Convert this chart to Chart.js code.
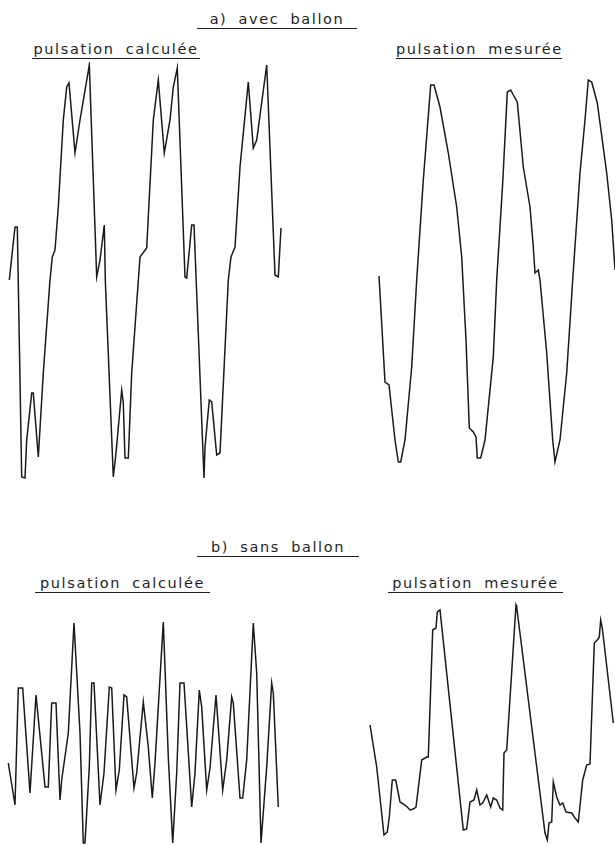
<!DOCTYPE html>
<html>
<head>
<meta charset="utf-8">
<script src="https://cdn.jsdelivr.net/npm/chart.js@4/dist/chart.umd.min.js"></script>
<style>
  body { margin: 0; background: #fff; width: 615px; height: 845px; position: relative; overflow: hidden; }
  canvas { position: absolute; }
  .ttl { position: absolute; font-family: "DejaVu Sans", sans-serif; font-size: 14.5px; color: #1e1e1e;
         letter-spacing: 1.6px; word-spacing: 5px; white-space: nowrap; text-align: center;
         border-bottom: 1.3px solid #1e1e1e; line-height: 15px; padding-bottom: 1px; }
</style>
</head>
<body>
<div class="ttl" style="left:197px; top:12px; width:160px;">a) avec ballon</div>
<div class="ttl" style="left:32px; top:42px; width:168px;">pulsation calculée</div>
<div class="ttl" style="left:396px; top:42px; width:166px;">pulsation mesurée</div>
<div class="ttl" style="left:197px; top:540px; width:162px;">b) sans ballon</div>
<div class="ttl" style="left:35px; top:576px; width:175px;">pulsation calculée</div>
<div class="ttl" style="left:388px; top:576px; width:175px;">pulsation mesurée</div>

<canvas id="c1" width="300" height="428" style="left:0px; top:62px;"></canvas>
<canvas id="c2" width="255" height="428" style="left:360px; top:62px;"></canvas>
<canvas id="c3" width="300" height="247" style="left:0px; top:598px;"></canvas>
<canvas id="c4" width="255" height="247" style="left:360px; top:598px;"></canvas>

<script>
// a) avec ballon - pulsation calculée (time, amplitude)
const avecCalcT = [9.3, 15, 17.3, 21.7, 25, 26.7, 31.7, 33.3, 38.3, 43.3, 50, 52.3, 55, 58.3, 63.3, 66.7, 69, 75, 80, 89.3,
  96.7, 100, 104.3, 105.3, 113.3, 116, 121.7, 123.3, 125, 128.3, 131.7, 140, 146.7, 153.3, 158.3, 164.3, 170, 173.3, 177.3,
  185, 186.7, 191.7, 194, 204, 205, 209.3, 211.7, 216.7, 220, 228.3, 231, 235, 240, 248.3, 253.3, 256.7, 266.7, 275, 278.3, 281];
const avecCalcP = [210, 263, 263, 13, 12, 50, 97, 97, 33, 117, 210, 233, 240, 283, 370, 403, 407, 337, 370, 425,
  213, 230, 265, 210, 13, 37, 100, 87, 32, 32, 117, 233, 242, 370, 410, 337, 370, 403, 422,
  213, 212, 265, 265, 12, 43, 90, 88, 35, 37, 210, 233, 243, 323, 408, 342, 350, 425, 215, 213, 262];

// a) avec ballon - pulsation mesurée
const avecMesT = [19, 25, 29, 35, 38.3, 40.7, 45, 51.7, 56.7, 63.3, 70.7, 74, 80, 88.3, 96.7, 101.7, 106, 109.3, 113.3, 116,
  117.3, 120.7, 125, 133.3, 136.7, 142.7, 147.3, 150.7, 153.3, 157.3, 163.3, 170, 173.3, 175, 178.3, 180, 186.7, 192.7, 195,
  200, 206.7, 212.7, 220, 225, 228.3, 231.7, 237.3, 246.7, 251.7, 255];
const avecMesP = [214, 108, 105, 50, 28, 28, 50, 123, 210, 310, 405, 405, 383, 337, 283, 233, 150, 62, 58, 53,
  32, 32, 50, 133, 210, 307, 398, 400, 395, 388, 323, 283, 243, 217, 220, 210, 137, 50, 28,
  50, 117, 210, 317, 370, 410, 408, 387, 317, 270, 220];

// b) sans ballon - pulsation calculée
const sansCalcT = [8.3, 15, 18.3, 22.7, 30, 36, 45, 48.3, 51.7, 56, 60, 61.7, 68.3, 74, 80, 83.3, 85, 89.3, 91.7, 94,
  100, 104, 109.3, 111.7, 116, 119.3, 124, 126.7, 134, 136.7, 143.3, 148.3, 152.3, 155, 163.3, 168.3, 172.7, 176.7, 180, 184,
  191.7, 195, 199.3, 201.7, 206.7, 210, 216, 218.3, 222.7, 226.7, 231.7, 233.3, 240, 242.7, 246.7, 253.3, 256.7, 261, 266.7,
  271.7, 273.3, 278.3];
const sansCalcP = [82, 40, 157, 157, 52, 150, 58, 58, 142, 142, 45, 65, 112, 222, 112, 2, 2, 78, 162, 162,
  40, 72, 158, 157, 55, 75, 150, 148, 57, 72, 143, 98, 47, 82, 223, 88, 2, 72, 162, 162,
  38, 72, 155, 138, 55, 77, 150, 118, 55, 85, 148, 142, 47, 47, 85, 222, 172, 2, 78,
  162, 152, 38];

// b) sans ballon - pulsation mesurée
const sansMesT = [10, 16.7, 24, 27.3, 29.3, 32.3, 35.7, 40, 45, 47.3, 50, 53.3, 56, 61.7, 66.7, 68.3, 72.7, 76, 77.3, 80,
  103.3, 106.7, 110, 114, 116.7, 120, 122.7, 126.7, 130.7, 133.3, 136.7, 140, 142.7, 144, 146.7, 156, 156.7,
  185, 187.3, 189, 191.7, 193.3, 196.7, 200, 202.7, 206, 211.7, 215, 218.3, 222.7, 226.7, 230, 234.3, 237.3, 239.3,
  240.7, 242.3, 253.3];
const sansMesP = [120, 78, 10, 13, 28, 65, 65, 43, 40, 38, 35, 36, 38, 85, 88, 88, 215, 217, 233, 235,
  15, 16, 43, 45, 55, 40, 42, 50, 38, 47, 45, 37, 35, 92, 95, 240, 238,
  12, 5, 22, 23, 63, 48, 40, 42, 33, 32, 27, 23, 65, 80, 81, 202, 205, 208,
  225, 217, 122];

function toPoints(t, p) {
  return t.map((v, i) => ({ x: v, y: p[i] }));
}

function makeTrace(id, t, p, xMax, yMax) {
  new Chart(document.getElementById(id), {
    type: 'scatter',
    data: {
      datasets: [{
        data: toPoints(t, p),
        showLine: true,
        borderColor: '#1a1a1a',
        borderWidth: 1.5,
        pointRadius: 0,
        tension: 0,
        clip: false
      }]
    },
    options: {
      responsive: false,
      animation: false,
      events: [],
      layout: { padding: 0 },
      plugins: { legend: { display: false }, tooltip: { enabled: false } },
      scales: {
        x: { type: 'linear', min: 0, max: xMax, display: false },
        y: { type: 'linear', min: 0, max: yMax, display: false }
      }
    }
  });
}

makeTrace('c1', avecCalcT, avecCalcP, 300, 428);
makeTrace('c2', avecMesT, avecMesP, 255, 428);
makeTrace('c3', sansCalcT, sansCalcP, 300, 247);
makeTrace('c4', sansMesT, sansMesP, 255, 247);
</script>
</body>
</html>
